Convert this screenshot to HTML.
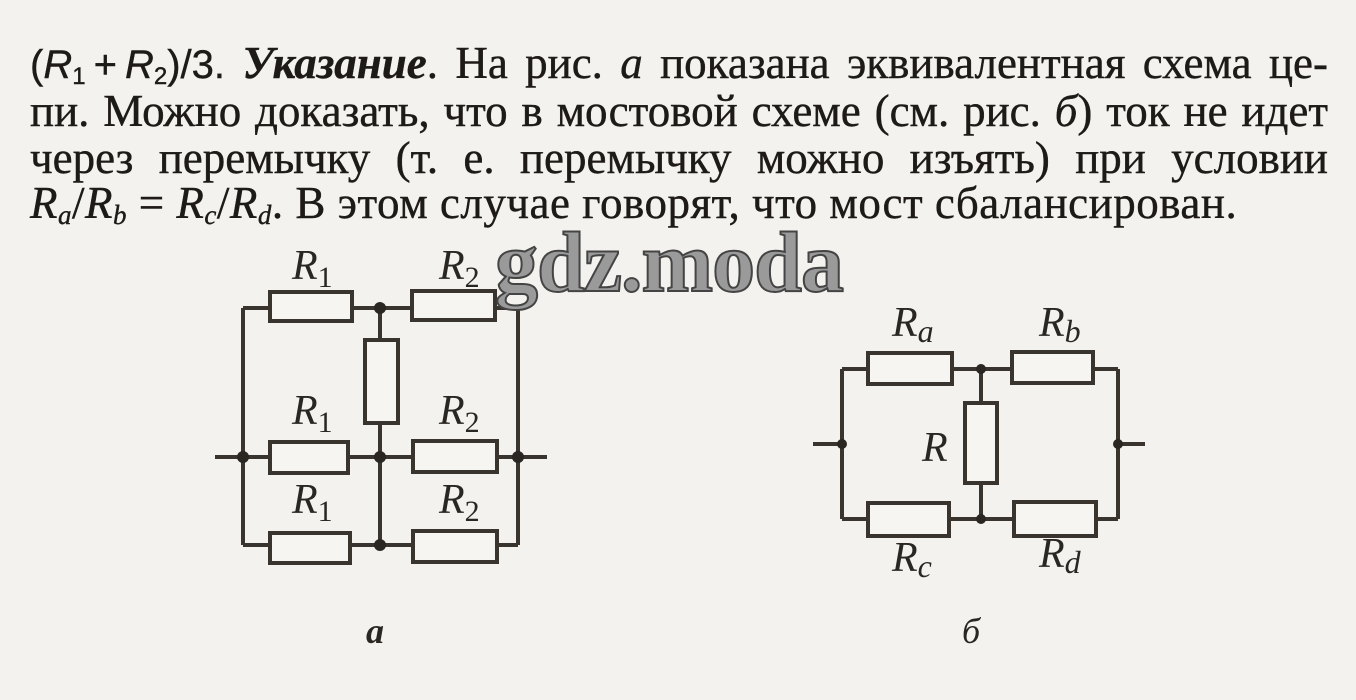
<!DOCTYPE html>
<html><head><meta charset="utf-8"><style>
body{margin:0;width:1356px;height:700px;background:#f3f2ee;position:relative;overflow:hidden;font-family:"Liberation Serif",serif;color:#1e1a17}
.l{position:absolute;left:30px;width:1298px;font-size:45px;line-height:46px;text-align:justify;text-align-last:justify;white-space:nowrap;-webkit-text-stroke:0.4px #1e1a17}
.s{font-family:"Liberation Sans",sans-serif;font-size:40px}
sub{font-size:60%;vertical-align:-6px;line-height:0}
.wm{position:absolute;left:495px;top:212px;font:bold 86px "Liberation Serif",serif;color:#9a9a9a;-webkit-text-stroke:2px #444;letter-spacing:-1px}
</style></head><body>
<div class="l" style="top:40px"><span class="s">(<i>R</i><sub>1</sub>&#8239;+&#8239;<i>R</i><sub>2</sub>)/3.</span> <b><i>Указание</i></b>. На рис. <i>а</i> показана эквивалентная схема це-</div>
<div class="l" style="top:88px">пи. Можно доказать, что в мостовой схеме (см. рис. <i>б</i>) ток не идет</div>
<div class="l" style="top:135px">через перемычку (т. е. перемычку можно изъять) при условии</div>
<div class="l" style="top:180px;width:auto;text-align-last:auto;letter-spacing:0.5px"><i>R<sub>a</sub></i>/<i>R<sub>b</sub></i> = <i>R<sub>c</sub></i>/<i>R<sub>d</sub></i>. В этом случае говорят, что мост сбалансирован.</div>
<svg width="1356" height="700" style="position:absolute;left:0;top:0" font-family="Liberation Serif" font-style="italic" fill="#2a2622">
<g stroke="#3a342e" stroke-width="4" fill="none">
<path d="M243 308V545M518 308V545M215 457H547M243 308H518M243 545H518M380 308V545"/>
<g fill="#f6f5f1">
<rect x="270" y="292" width="82" height="29"/><rect x="412" y="291" width="83" height="29"/>
<rect x="365" y="340" width="33" height="83"/>
<rect x="270" y="442" width="78" height="31"/><rect x="413" y="441" width="84" height="31"/>
<rect x="270" y="533" width="80" height="30"/><rect x="413" y="531" width="84" height="31"/>
</g>
<path d="M842 369V519M1118 369V519M813 444H842M1118 444H1145M842 369H1118M842 519H1118M981 369V519"/>
<g fill="#f6f5f1">
<rect x="868" y="353" width="84" height="31"/><rect x="1012" y="352" width="81" height="31"/>
<rect x="965" y="403" width="32" height="80"/>
<rect x="868" y="503" width="81" height="33"/><rect x="1014" y="502" width="82" height="34"/>
</g>
</g>
<g fill="#2a2622">
<circle cx="243" cy="457" r="6"/><circle cx="380" cy="457" r="6"/><circle cx="518" cy="457" r="6"/>
<circle cx="380" cy="308" r="6"/><circle cx="380" cy="545" r="6"/>
<circle cx="842" cy="444" r="5"/><circle cx="1118" cy="444" r="5"/><circle cx="981" cy="369" r="5"/><circle cx="981" cy="519" r="5"/>
</g>
<g font-size="42">
<text x="292" y="279">R<tspan font-size="30" font-style="normal" dy="8">1</tspan></text>
<text x="439" y="279">R<tspan font-size="30" font-style="normal" dy="8">2</tspan></text>
<text x="292" y="424">R<tspan font-size="30" font-style="normal" dy="8">1</tspan></text>
<text x="439" y="424">R<tspan font-size="30" font-style="normal" dy="8">2</tspan></text>
<text x="292" y="513">R<tspan font-size="30" font-style="normal" dy="8">1</tspan></text>
<text x="439" y="513">R<tspan font-size="30" font-style="normal" dy="8">2</tspan></text>
<text x="892" y="336">R<tspan font-size="32" dy="6">a</tspan></text>
<text x="1039" y="336">R<tspan font-size="32" dy="6">b</tspan></text>
<text x="922" y="461">R</text>
<text x="892" y="571">R<tspan font-size="32" dy="6">c</tspan></text>
<text x="1039" y="567">R<tspan font-size="32" dy="6">d</tspan></text>
<text x="366" y="643" font-weight="bold" font-size="36">а</text>
<text x="962" y="643" font-size="36">б</text>
</g>
</svg>
<div class="wm">gdz.moda</div>
</body></html>
